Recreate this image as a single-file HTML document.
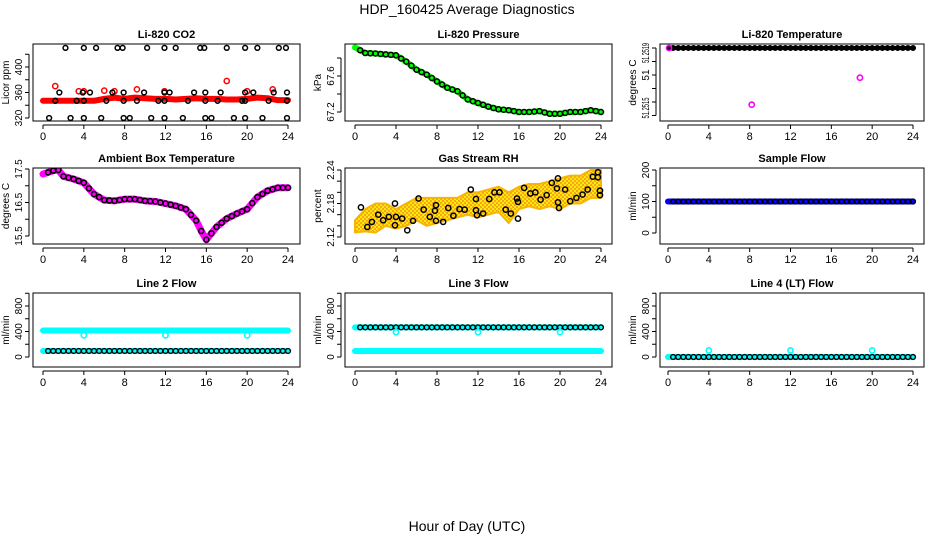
<!DOCTYPE html>
<html><head><meta charset="utf-8"><style>
html,body{margin:0;padding:0;background:#fff}
svg{display:block;font-family:"Liberation Sans",Arial,sans-serif}
</style></head><body>
<svg id="c" width="936" height="540" xmlns="http://www.w3.org/2000/svg">
<text x="467" y="14" font-size="14" text-anchor="middle">HDP_160425  Average Diagnostics</text>
<text x="467" y="531" font-size="14" text-anchor="middle">Hour of Day (UTC)</text>
</svg>
<script>
// ---------- data ----------
const hours = [0,1,2,3,4,5,6,7,8,9,10,11,12,13,14,15,16,17,18,19,20,21,22,23,24];
const hoursB = [0.5,1,1.5,2,2.5,3,3.5,4,4.5,5,5.5,6,6.5,7,7.5,8,8.5,9,9.5,10,10.5,11,11.5,12,12.5,13,13.5,14,14.5,15,15.5,16,16.5,17,17.5,18,18.5,19,19.5,20,20.5,21,21.5,22,22.5,23,23.5,24];
const xTicks = [0,4,8,12,16,20,24];

const co2Red = [347,347,347,347,347,347,350,352,350,352,351,350,350,349,350,351,350,350,349,349,350,352,351,348,348];
const co2RedOutX = [1.2,3.5,4,6,9.2,18,20,22.5,11.9,7];
const co2RedOutY = [370,362,362,363,365,378,362,365,362,362];
const co2BlackX = [2.2,4,5.2,7.3,7.8,10.2,11.9,13,15.4,15.8,18,19.8,21,23.1,23.8, 0.6,2.7,4,5.7,7.9,8.5,10.6,11.9,13.7,15.9,16.5,18.7,19.8,21.5,23.9, 1.2,3.3,4,6.2,7.9,9.2,11.3,11.9,14.2,15.9,17.1,19.5,19.8,22.1,23.9, 1.6,3.9,4.6,6.8,7.9,9.9,11.9,12.4,14.8,15.9,17.4,19.8,20.6,22.6,23.9];
const co2BlackY = [430,430,430,430,430,430,430,430,430,430,430,430,430,430,430, 320,320,320,320,320,320,320,320,320,320,320,320,320,320,320, 347,347,347,347,347,347,347,347,347,347,347,347,347,347,347, 360,360,360,360,360,360,360,360,360,360,360,360,360,360,360];

const pres = [67.918,67.855,67.85,67.84,67.83,67.76,67.67,67.615,67.54,67.47,67.43,67.34,67.30,67.26,67.23,67.22,67.20,67.20,67.21,67.18,67.18,67.20,67.20,67.22,67.20];

const tempVal = [51.2519,51.2519,51.2519,51.2519,51.2519,51.2519,51.2519,51.2519,51.2519,51.2519,51.2519,51.2519,51.2519,51.2519,51.2519,51.2519,51.2519,51.2519,51.2519,51.2519,51.2519,51.2519,51.2519,51.2519,51.2519];
const tempOutX = [0.1,8.2,18.8];
const tempOutY = [51.2519,51.25148,51.25168];

const ambX = [0,1,1.5,2,3,4,5,6,7,8,9,10,11,12,13,14,15,15.5,16,17,18,19,20,21,22,23,24];
const ambY = [17.35,17.45,17.47,17.28,17.2,17.09,16.75,16.57,16.55,16.6,16.6,16.55,16.53,16.47,16.4,16.3,15.96,15.65,15.39,15.77,16.02,16.17,16.3,16.66,16.85,16.94,16.94];

const rhLow = [2.128,2.13,2.128,2.14,2.135,2.14,2.15,2.14,2.145,2.15,2.155,2.16,2.155,2.16,2.165,2.145,2.17,2.175,2.17,2.175,2.17,2.18,2.18,2.19,2.19];
const rhHigh = [2.15,2.17,2.18,2.18,2.17,2.18,2.19,2.19,2.19,2.19,2.19,2.2,2.2,2.205,2.21,2.2,2.21,2.215,2.215,2.22,2.225,2.23,2.23,2.24,2.24];
const rhBlackX = [0.58,1.2,1.65,2.27,2.75,3.3,3.9,3.9,4,4.6,5.1,5.66,6.2,6.7,7.3,7.8,7.9,7.9,8.6,9.1,9.6,10.2,10.7,11.3,11.8,11.8,11.9,12.5,13.1,13.6,14.1,14.7,15.2,15.8,15.9,15.9,16.5,17.1,17.6,18.1,18.7,19.2,19.8,19.7,19.8,19.9,20.5,21,21.6,22.2,22.7,23.2,23.7,23.7,23.9,23.9];
const rhBlackY = [2.173,2.138,2.147,2.160,2.150,2.156,2.180,2.141,2.156,2.153,2.132,2.149,2.189,2.169,2.156,2.167,2.177,2.149,2.147,2.172,2.158,2.170,2.169,2.205,2.188,2.168,2.159,2.162,2.188,2.200,2.200,2.169,2.162,2.189,2.183,2.153,2.208,2.198,2.200,2.187,2.195,2.217,2.225,2.207,2.182,2.172,2.205,2.184,2.190,2.196,2.205,2.228,2.236,2.227,2.195,2.203];

const sampleFlow = [100,100,100,100,100,100,100,100,100,100,100,100,100,100,100,100,100,100,100,100,100,100,100,100,100];

const l2High = [415,415,415,415,415,415,415,415,415,415,415,415,415,415,415,415,415,415,415,415,415,415,415,415,415];
const l2Low = [95,95,95,95,95,95,95,95,95,95,95,95,95,95,95,95,95,95,95,95,95,95,95,95,95];
const l3High = [465,465,465,465,465,465,465,465,465,465,465,465,465,465,465,465,465,465,465,465,465,465,465,465,465];
const l3Low = [95,95,95,95,95,95,95,95,95,95,95,95,95,95,95,95,95,95,95,95,95,95,95,95,95];
const l4Val = [0,0,0,0,0,0,0,0,0,0,0,0,0,0,0,0,0,0,0,0,0,0,0,0,0];
const outHours = [4,12,20];
const l2Out = [340,340,340];
const l3Out = [390,390,390];
const l4Out = [103,103,103];

// ---------- drawing ----------
const svg = document.getElementById('c');
const NS = 'http://www.w3.org/2000/svg';
function mk(tag, attrs, parent){const e=document.createElementNS(NS,tag);for(const k in attrs)e.setAttribute(k,attrs[k]);(parent||svg).appendChild(e);return e;}

const cols = [{bx0:33,bx1:300,x0:43,x24:288},{bx0:345,bx1:612,x0:355,x24:601},{bx0:660,bx1:924,x0:668,x24:913}];
const rows = [{by0:44,by1:121},{by0:168,by1:244},{by0:293,by1:367}];

function makePanel(ci, ri, name, title, ylab, cal, ticks){
  const c=cols[ci], r=rows[ri];
  const g=mk('g',{});
  
  
  const xs=h=>c.x0+(c.x24-c.x0)*h/24;
  const ys=v=>cal[1]+(v-cal[0])*(cal[3]-cal[1])/(cal[2]-cal[0]);
  const t=mk('text',{x:(c.bx0+c.bx1)/2,y:r.by0-6,'font-size':11,'font-weight':'bold','text-anchor':'middle'},g);
  t.textContent=title;
  
  
  const xa=mk('g',{},g);
  
  
  mk('line',{x1:xs(0),x2:xs(24),y1:r.by1+4,y2:r.by1+4,stroke:'#000'},xa);
  xTicks.forEach(v=>{
    mk('line',{x1:xs(v),x2:xs(v),y1:r.by1+4,y2:r.by1+8,stroke:'#000'},xa);
    const tt=mk('text',{x:xs(v),y:r.by1+19,'font-size':11,'text-anchor':'middle'},xa);
    tt.textContent=v;
  });
  const ya=mk('g',{},g);
  
  
  const tv=ticks.map(t=>t[0]);
  mk('line',{x1:c.bx0-4,x2:c.bx0-4,y1:ys(Math.max(...tv)),y2:ys(Math.min(...tv)),stroke:'#000'},ya);
  ticks.forEach(tk=>{
    const y=ys(tk[0]);
    mk('line',{x1:c.bx0-8,x2:c.bx0-4,y1:y,y2:y,stroke:'#000'},ya);
    if(tk[1]!==''){
      const ly=y+(tk[2]||0);
      const at={x:c.bx0-11,y:ly,'font-size':10,'text-anchor':'middle',transform:`rotate(-90 ${c.bx0-11} ${ly})`};
      if(tk[3]){at.textLength=tk[3];at.lengthAdjust='spacingAndGlyphs';}
      const tt=mk('text',at,ya);
      tt.textContent=tk[1];
    }
  });
  const yl=mk('text',{x:c.bx0-24,y:(r.by0+r.by1)/2,'font-size':10,'text-anchor':'middle',transform:`rotate(-90 ${c.bx0-24} ${(r.by0+r.by1)/2})`},g);
  yl.textContent=ylab;
  
  
  const clip='clip'+ci+ri;
  const cp=mk('clipPath',{id:clip},g);
  mk('rect',{x:c.bx0,y:r.by0,width:c.bx1-c.bx0,height:r.by1-r.by0},cp);
  const plot=mk('g',{'clip-path':`url(#${clip})`},g);
  const box=mk('rect',{x:c.bx0,y:r.by0,width:c.bx1-c.bx0,height:r.by1-r.by0,fill:'none',stroke:'#000'},g);
  
  
  return {plot,xs,ys};
}
function band(p, xArr, yArr, color, w, nm){
  const pts=xArr.map((h,i)=>p.xs(h)+','+p.ys(yArr[i])).join(' ');
  const e=mk('polyline',{points:pts,fill:'none',stroke:color,'stroke-width':w,'stroke-linejoin':'round','stroke-linecap':'round'},p.plot);
  
  
}
function pts(p, xArr, yArr, color, r, sw, nm){
  const g=mk('g',{},p.plot);
  
  
  xArr.forEach((h,i)=>{
    mk('circle',{cx:p.xs(h),cy:p.ys(yArr[i]),r:r,fill:'none',stroke:color,'stroke-width':sw},g);
  });
}
function interpAt(xArr,yArr,h){
  for(let i=0;i<xArr.length-1;i++){ if(h>=xArr[i]&&h<=xArr[i+1]){const f=(h-xArr[i])/(xArr[i+1]-xArr[i]);return yArr[i]+f*(yArr[i+1]-yArr[i]);} }
  return yArr[yArr.length-1];
}

let p=makePanel(0,0,'co2','Li-820 CO2','Licor ppm',[320,118,400,67],[[320,'320'],[340,''],[360,'360'],[380,''],[400,'400'],[420,'']]);
band(p,hours,co2Red,'#f00',6,'co2-red-series');
pts(p,co2RedOutX,co2RedOutY,'#f00',2.6,1.5,'co2-red-outliers');
pts(p,co2BlackX,co2BlackY,'#000',2.4,1.5,'co2-black-points');

p=makePanel(1,0,'pressure','Li-820 Pressure','kPa',[67.2,112,67.6,76],[[67.2,'67.2'],[67.4,''],[67.6,'67.6'],[67.8,'']]);
band(p,hours,pres,'#0f0',6,'pressure-green-series');
pts(p,hoursB,hoursB.map(h=>interpAt(hours,pres,h)),'#000',2.5,1.5,'pressure-black-points');

p=makePanel(2,0,'li820-temp','Li-820 Temperature','degrees C',[51.2519,48,51.2515,102],[[51.2519,'51.2519',5,20],[51.2518,''],[51.2517,'51'],[51.2516,''],[51.2515,'51.2515',6,21],[51.2514,'']]);
band(p,hours,tempVal,'#000',4,'temp-black-series');
pts(p,hoursB,hoursB.map(()=>tempVal[0]),'#000',2.4,1.3,'temp-black-points');
pts(p,tempOutX,tempOutY,'#f0f',2.6,1.6,'temp-magenta-points');

p=makePanel(0,1,'ambient','Ambient Box Temperature','degrees C',[17.5,169,15.5,236],[[15.5,'15.5'],[16,''],[16.5,'16.5'],[17,''],[17.5,'17.5']]);
band(p,ambX,ambY,'#f0f',7,'ambient-magenta-series');
pts(p,hoursB,hoursB.map(h=>interpAt(ambX,ambY,h)),'#000',2.5,1.5,'ambient-black-points');

p=makePanel(1,1,'rh','Gas Stream RH','percent',[2.24,170,2.12,237],[[2.12,'2.12'],[2.14,''],[2.16,''],[2.18,'2.18'],[2.20,''],[2.22,''],[2.24,'2.24']]);
{
  const up=hours.map((h,i)=>p.xs(h)+','+p.ys(rhHigh[i]));
  const lo=hours.map((h,i)=>p.xs(h)+','+p.ys(rhLow[i])).reverse();
  const defs=mk('defs',{},p.plot);
  const pat=mk('pattern',{id:'rhpat',width:4,height:4,patternUnits:'userSpaceOnUse'},defs);
  mk('rect',{width:4,height:4,fill:'#f5a623'},pat);
  mk('rect',{width:2,height:2,fill:'#ffea00'},pat);
  mk('rect',{x:2,y:2,width:2,height:2,fill:'#ffea00'},pat);
  const e=mk('polygon',{points:up.concat(lo).join(' '),fill:'url(#rhpat)',stroke:'#f7b500','stroke-width':2,'stroke-linejoin':'round'},p.plot);
  
  
}
pts(p,rhBlackX,rhBlackY,'#000',2.6,1.5,'rh-black-points');

p=makePanel(2,1,'sample-flow','Sample Flow','ml/min',[0,233,200,170],[[0,'0'],[50,''],[100,'100'],[150,''],[200,'200']]);
band(p,hours,sampleFlow,'#00f',6,'sample-flow-blue-series');
pts(p,hoursB,hoursB.map(()=>sampleFlow[0]),'#000',2.4,1.4,'sample-flow-black-points');

const flowTicks=[[0,'0'],[200,''],[400,'400'],[600,''],[800,'800'],[1000,'']];
p=makePanel(0,2,'line2-flow','Line 2 Flow','ml/min',[0,357,800,306],flowTicks);
band(p,hours,l2High,'#0ff',6,'line2-high-series');
band(p,hours,l2Low,'#0ff',6,'line2-low-series');
pts(p,hoursB,hoursB.map(h=>interpAt(hours,l2Low,h)),'#000',2.4,1.4,'line2-black-points');
pts(p,outHours,l2Out,'#0ff',2.6,1.6,'line2-outliers');

p=makePanel(1,2,'line3-flow','Line 3 Flow','ml/min',[0,357,800,306],flowTicks);
band(p,hours,l3High,'#0ff',6,'line3-high-series');
band(p,hours,l3Low,'#0ff',6,'line3-low-series');
pts(p,hoursB,hoursB.map(h=>interpAt(hours,l3High,h)),'#000',2.4,1.4,'line3-black-points');
pts(p,outHours,l3Out,'#0ff',2.6,1.6,'line3-outliers');

p=makePanel(2,2,'line4-flow','Line 4 (LT) Flow','ml/min',[0,357,800,306],flowTicks);
band(p,hours,l4Val,'#0ff',6,'line4-series');
pts(p,hoursB,hoursB.map(h=>interpAt(hours,l4Val,h)),'#000',2.4,1.4,'line4-black-points');
pts(p,outHours,l4Out,'#0ff',2.6,1.6,'line4-outliers');
</script>
</body></html>
